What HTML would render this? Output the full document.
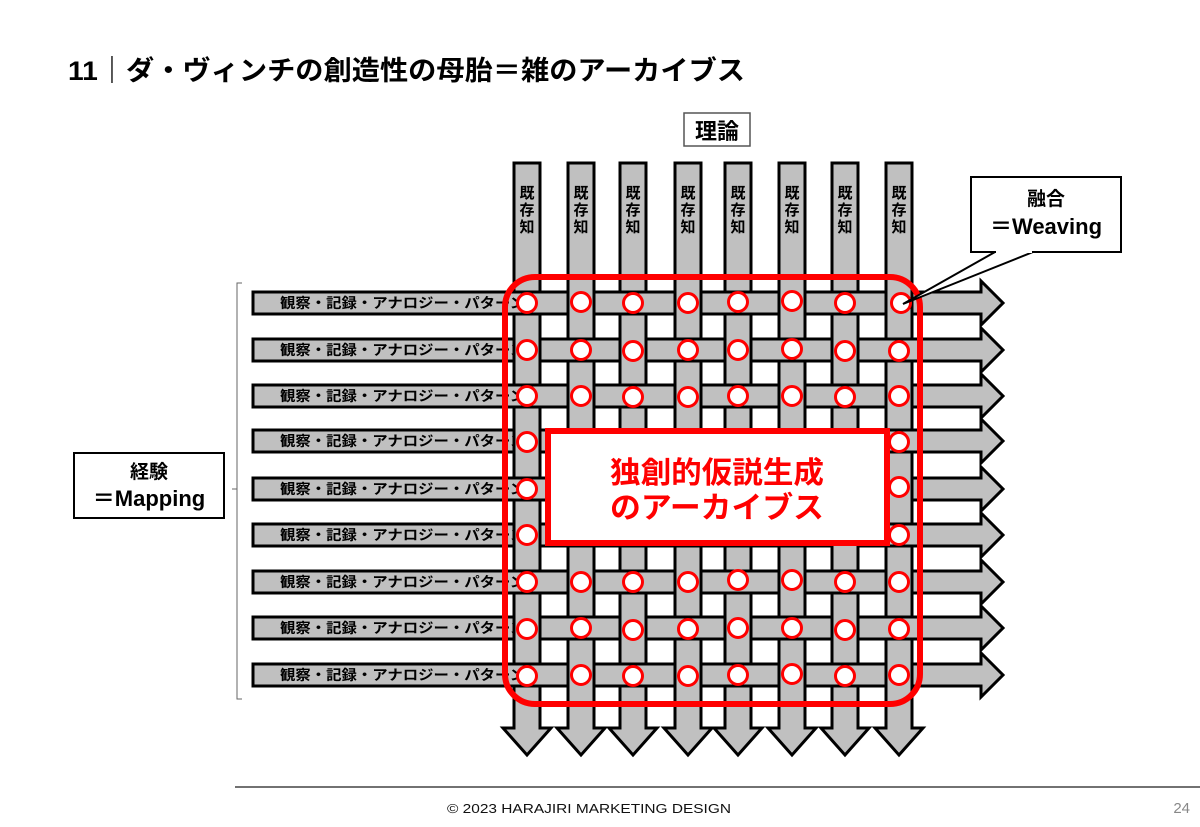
<!DOCTYPE html>
<html><head><meta charset="utf-8"><style>
html,body{margin:0;padding:0;background:#fff;}
svg{display:block;font-family:"Liberation Sans","Noto Sans CJK JP",sans-serif;}
</style></head><body>
<svg width="1200" height="827" viewBox="0 0 1200 827" xmlns="http://www.w3.org/2000/svg">
<defs>
<g id="col"><polygon points="-13,163 13,163 13,728 24,728 0,755 -24,728 -13,728" fill="#c0c0c0" stroke="#000" stroke-width="3" stroke-linejoin="miter"/></g>
<g id="row"><polygon points="253,-11 981,-11 981,-22 1003,0 981,22 981,11 253,11" fill="#c0c0c0" stroke="#000" stroke-width="3"/></g>
<g id="p"><rect x="-12" y="-12.5" width="24" height="25" fill="#c0c0c0"/><line x1="-13" y1="-12.5" x2="-13" y2="12.5" stroke="#000" stroke-width="3"/><line x1="13" y1="-12.5" x2="13" y2="12.5" stroke="#000" stroke-width="3"/></g>
</defs>

<text x="68" y="80" font-size="27" font-weight="bold" fill="#000" textLength="677" lengthAdjust="spacingAndGlyphs">11｜ダ・ヴィンチの創造性の母胎＝雑のアーカイブス</text>

<rect x="684" y="113" width="66" height="33" fill="#fff" stroke="#555" stroke-width="1.5"/>
<text x="717" y="139" font-size="22" font-weight="bold" text-anchor="middle">理論</text>

<!-- columns -->
<use href="#col" x="527"/><use href="#col" x="581"/><use href="#col" x="633"/><use href="#col" x="688"/>
<use href="#col" x="738"/><use href="#col" x="792"/><use href="#col" x="845"/><use href="#col" x="899"/>
<g font-size="15" font-weight="bold" text-anchor="middle">
<text x="527" y="198">既</text><text x="527" y="215">存</text><text x="527" y="232">知</text>
<text x="581" y="198">既</text><text x="581" y="215">存</text><text x="581" y="232">知</text>
<text x="633" y="198">既</text><text x="633" y="215">存</text><text x="633" y="232">知</text>
<text x="688" y="198">既</text><text x="688" y="215">存</text><text x="688" y="232">知</text>
<text x="738" y="198">既</text><text x="738" y="215">存</text><text x="738" y="232">知</text>
<text x="792" y="198">既</text><text x="792" y="215">存</text><text x="792" y="232">知</text>
<text x="845" y="198">既</text><text x="845" y="215">存</text><text x="845" y="232">知</text>
<text x="899" y="198">既</text><text x="899" y="215">存</text><text x="899" y="232">知</text>
</g>

<!-- rows -->
<use href="#row" y="303"/><use href="#row" y="350"/><use href="#row" y="396"/>
<use href="#row" y="441"/><use href="#row" y="489"/><use href="#row" y="535"/>
<use href="#row" y="582"/><use href="#row" y="628"/><use href="#row" y="675"/>
<g font-size="14" font-weight="bold">
<text x="280" y="308" textLength="245" lengthAdjust="spacingAndGlyphs">観察・記録・アナロジー・パターン</text>
<text x="280" y="355" textLength="245" lengthAdjust="spacingAndGlyphs">観察・記録・アナロジー・パターン</text>
<text x="280" y="401" textLength="245" lengthAdjust="spacingAndGlyphs">観察・記録・アナロジー・パターン</text>
<text x="280" y="446" textLength="245" lengthAdjust="spacingAndGlyphs">観察・記録・アナロジー・パターン</text>
<text x="280" y="494" textLength="245" lengthAdjust="spacingAndGlyphs">観察・記録・アナロジー・パターン</text>
<text x="280" y="540" textLength="245" lengthAdjust="spacingAndGlyphs">観察・記録・アナロジー・パターン</text>
<text x="280" y="587" textLength="245" lengthAdjust="spacingAndGlyphs">観察・記録・アナロジー・パターン</text>
<text x="280" y="633" textLength="245" lengthAdjust="spacingAndGlyphs">観察・記録・アナロジー・パターン</text>
<text x="280" y="680" textLength="245" lengthAdjust="spacingAndGlyphs">観察・記録・アナロジー・パターン</text>
</g>

<!-- weave patches (vertical on top) -->
<use href="#p" x="581" y="303"/><use href="#p" x="688" y="303"/><use href="#p" x="792" y="303"/><use href="#p" x="899" y="303"/>
<use href="#p" x="527" y="350"/><use href="#p" x="633" y="350"/><use href="#p" x="738" y="350"/><use href="#p" x="845" y="350"/>
<use href="#p" x="581" y="396"/><use href="#p" x="688" y="396"/><use href="#p" x="792" y="396"/><use href="#p" x="899" y="396"/>
<use href="#p" x="527" y="441"/><use href="#p" x="845" y="441"/>
<use href="#p" x="899" y="489"/>
<use href="#p" x="527" y="535"/><use href="#p" x="845" y="535"/>
<use href="#p" x="581" y="582"/><use href="#p" x="688" y="582"/><use href="#p" x="792" y="582"/><use href="#p" x="899" y="582"/>
<use href="#p" x="527" y="628"/><use href="#p" x="633" y="628"/><use href="#p" x="738" y="628"/><use href="#p" x="845" y="628"/>
<use href="#p" x="581" y="675"/><use href="#p" x="688" y="675"/><use href="#p" x="792" y="675"/><use href="#p" x="899" y="675"/>

<!-- circles -->
<g fill="#fff" stroke="#f00" stroke-width="3">
<circle cx="527" cy="303" r="9.5"/><circle cx="581" cy="302" r="9.5"/><circle cx="633" cy="303" r="9.5"/><circle cx="688" cy="303" r="9.5"/><circle cx="738" cy="302" r="9.5"/><circle cx="792" cy="301" r="9.5"/><circle cx="845" cy="303" r="9.5"/><circle cx="901" cy="303" r="9.5"/>
<circle cx="527" cy="350" r="9.5"/><circle cx="581" cy="350" r="9.5"/><circle cx="633" cy="351" r="9.5"/><circle cx="688" cy="350" r="9.5"/><circle cx="738" cy="350" r="9.5"/><circle cx="792" cy="349" r="9.5"/><circle cx="845" cy="351" r="9.5"/><circle cx="899" cy="351" r="9.5"/>
<circle cx="527" cy="396" r="9.5"/><circle cx="581" cy="396" r="9.5"/><circle cx="633" cy="397" r="9.5"/><circle cx="688" cy="397" r="9.5"/><circle cx="738" cy="396" r="9.5"/><circle cx="792" cy="396" r="9.5"/><circle cx="845" cy="397" r="9.5"/><circle cx="899" cy="396" r="9.5"/>
<circle cx="527" cy="442" r="9.5"/><circle cx="899" cy="442" r="9.5"/>
<circle cx="527" cy="489" r="9.5"/><circle cx="899" cy="487" r="9.5"/>
<circle cx="527" cy="535" r="9.5"/><circle cx="899" cy="535" r="9.5"/>
<circle cx="527" cy="582" r="9.5"/><circle cx="581" cy="582" r="9.5"/><circle cx="633" cy="582" r="9.5"/><circle cx="688" cy="582" r="9.5"/><circle cx="738" cy="580" r="9.5"/><circle cx="792" cy="580" r="9.5"/><circle cx="845" cy="582" r="9.5"/><circle cx="899" cy="582" r="9.5"/>
<circle cx="527" cy="629" r="9.5"/><circle cx="581" cy="628" r="9.5"/><circle cx="633" cy="630" r="9.5"/><circle cx="688" cy="629" r="9.5"/><circle cx="738" cy="628" r="9.5"/><circle cx="792" cy="628" r="9.5"/><circle cx="845" cy="630" r="9.5"/><circle cx="899" cy="629" r="9.5"/>
<circle cx="527" cy="676" r="9.5"/><circle cx="581" cy="675" r="9.5"/><circle cx="633" cy="676" r="9.5"/><circle cx="688" cy="676" r="9.5"/><circle cx="738" cy="675" r="9.5"/><circle cx="792" cy="674" r="9.5"/><circle cx="845" cy="676" r="9.5"/><circle cx="899" cy="675" r="9.5"/>
</g>

<rect x="505" y="277" width="415" height="427" rx="30" ry="30" fill="none" stroke="#f00" stroke-width="6"/>

<rect x="548" y="431" width="339" height="112" fill="#fff" stroke="#f00" stroke-width="6"/>
<g font-size="30" font-weight="bold" fill="#f00" text-anchor="middle">
<text x="717" y="483" textLength="214" lengthAdjust="spacingAndGlyphs">独創的仮説生成</text>
<text x="717" y="518" textLength="214" lengthAdjust="spacingAndGlyphs">のアーカイブス</text>
</g>

<!-- callout -->
<polygon points="995,252 1033,252 903,304" fill="#fff" stroke="#000" stroke-width="2"/>
<rect x="971" y="177" width="150" height="75" fill="#fff" stroke="#000" stroke-width="2"/>
<line x1="996" y1="252" x2="1032" y2="252" stroke="#fff" stroke-width="2"/>
<text x="1046" y="205" font-size="19" font-weight="bold" text-anchor="middle">融合</text>
<text x="1046" y="234" font-size="22" font-weight="bold" text-anchor="middle">＝Weaving</text>

<!-- bracket -->
<path d="M242,283 L237,283 L237,699 L242,699 M237,489 L232,489" fill="none" stroke="#666" stroke-width="1"/>
<rect x="74" y="453" width="150" height="65" fill="#fff" stroke="#000" stroke-width="2"/>
<text x="149" y="478" font-size="19" font-weight="bold" text-anchor="middle">経験</text>
<text x="149" y="506" font-size="22" font-weight="bold" text-anchor="middle">＝Mapping</text>

<line x1="235" y1="787" x2="1200" y2="787" stroke="#444" stroke-width="1.5"/>
<text x="447" y="813" font-size="13" fill="#111" textLength="284" lengthAdjust="spacingAndGlyphs">© 2023 HARAJIRI MARKETING DESIGN</text>
<text x="1190" y="813" font-size="15" fill="#888" text-anchor="end">24</text>
</svg>
</body></html>
